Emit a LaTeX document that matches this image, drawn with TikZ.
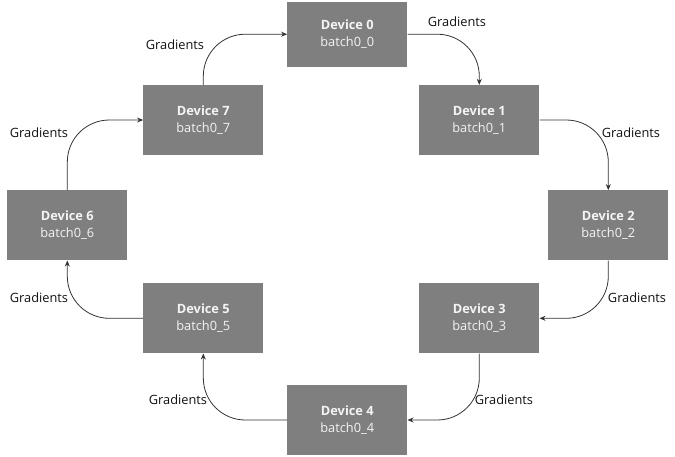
\documentclass[tikz,border=0pt]{standalone}
\usepackage{fontspec}
\setmainfont{Open Sans}
\usetikzlibrary{arrows.meta}
\definecolor{boxgray}{HTML}{7F7F7F}
\definecolor{linegray}{HTML}{333333}
\definecolor{boxtext}{HTML}{F4F4F4}
\definecolor{labtext}{HTML}{111111}
\tikzset{
  dev/.style={fill=boxgray, draw=none, minimum width=120pt, minimum height=70pt,
    inner sep=0pt, align=center, text=boxtext,
    font=\fontsize{12.8}{16.5}\selectfont},
  arr/.style={draw=linegray, line width=0.8pt, rounded corners=42pt,
    -{Stealth[length=6pt,width=5pt]}},
  lab/.style={text=labtext, inner sep=0pt, font=\fontsize{12.8}{14}\selectfont}
}
\begin{document}
\begin{tikzpicture}[x=1pt,y=-1pt]
\useasboundingbox (0,0) rectangle (675,456);
\node[dev, minimum height=65pt] (d0) at (347.3,34.2) {\textbf{Device 0}\\batch0\_0};
\node[dev] (d1) at (479.3,120) {\textbf{Device 1}\\batch0\_1};
\node[dev] (d2) at (608.3,225.3) {\textbf{Device 2}\\batch0\_2};
\node[dev] (d3) at (479.3,318.3) {\textbf{Device 3}\\batch0\_3};
\node[dev] (d4) at (347.3,420) {\textbf{Device 4}\\batch0\_4};
\node[dev] (d5) at (203.3,318.3) {\textbf{Device 5}\\batch0\_5};
\node[dev] (d6) at (67.3,225.3) {\textbf{Device 6}\\batch0\_6};
\node[dev] (d7) at (203.3,120) {\textbf{Device 7}\\batch0\_7};
\draw[arr] (d7.north) |- (d0.west);
\draw[arr] (d0.east) -| (d1.north);
\draw[arr] (d1.east) -| (d2.north);
\draw[arr] (d2.south) |- (d3.east);
\draw[arr] (d3.south) |- (d4.east);
\draw[arr] (d4.west) -| (d5.south);
\draw[arr] (d5.west) -| (d6.south);
\draw[arr] (d6.north) |- (d7.west);
\node[lab] (g70) at (175,45) {Gradients};
\node[lab] (g01) at (457,22) {Gradients};
\node[lab] (g12) at (631,133) {Gradients};
\node[lab] (g23) at (637,298) {Gradients};
\node[lab] (g34) at (504,400) {Gradients};
\node[lab] (g45) at (178,400) {Gradients};
\node[lab] (g56) at (39,298) {Gradients};
\node[lab] (g67) at (39,133) {Gradients};
\end{tikzpicture}
\end{document}
